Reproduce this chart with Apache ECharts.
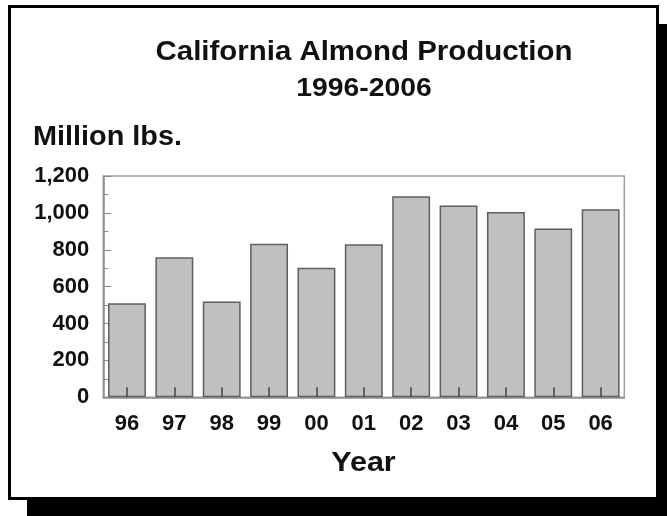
<!DOCTYPE html>
<html>
<head>
<meta charset="utf-8">
<script src="https://cdn.jsdelivr.net/npm/echarts@6/dist/echarts.min.js"></script>
<style>
html,body{margin:0;padding:0;background:#fff;}
#c{width:667px;height:516px;}
</style>
</head>
<body>
<div id="c"></div>
<script>
const categories = ['96','97','98','99','00','01','02','03','04','05','06'];
const production = [510, 759, 520, 833, 703, 830, 1090, 1040, 1005, 915, 1020];
const yTicks = {min: 0, max: 1200, interval: 200};
const titleLines = ['California Almond Production', '1996-2006'];
const yName = 'Million lbs.';
const xName = 'Year';

const chart = echarts.init(document.getElementById('c'), null, {renderer: 'canvas'});
const FONT = 'Liberation Sans, Arial, sans-serif';
chart.setOption({
  backgroundColor: '#fff',
  animation: false,
  graphic: [
    {type: 'rect', z: -20, shape: {x: 27, y: 24, width: 650, height: 500}, style: {fill: '#000'}},
    {type: 'rect', z: -19, shape: {x: 9.5, y: 6.5, width: 648, height: 492}, style: {fill: '#fff', stroke: '#000', lineWidth: 3}},
    {type: 'text', x: 364, y: 52.5, scaleX: 1.09, style: {text: titleLines[0], font: 'bold 27px ' + FONT, fill: '#111', textAlign: 'center', textVerticalAlign: 'middle'}},
    {type: 'text', x: 364, y: 88.5, scaleX: 1.09, style: {text: titleLines[1], font: 'bold 26px ' + FONT, fill: '#111', textAlign: 'center', textVerticalAlign: 'middle'}},
    {type: 'text', x: 33, y: 137.7, scaleX: 1.03, style: {text: yName, font: 'bold 28px ' + FONT, fill: '#111', textAlign: 'left', textVerticalAlign: 'middle'}},
    {type: 'text', x: 363.5, y: 463.3, scaleX: 1.09, style: {text: xName, font: 'bold 28px ' + FONT, fill: '#111', textAlign: 'center', textVerticalAlign: 'middle'}}
  ],
  grid: {left: 103.3, right: 42.7, top: 176, bottom: 118.7, show: true, borderColor: '#a0a0a0', borderWidth: 1.5, backgroundColor: 'transparent'},
  xAxis: {
    type: 'category',
    data: categories,
    z: 10,
    axisLine: {lineStyle: {color: '#8a8a8a', width: 1.5}},
    axisTick: {show: true, inside: true, alignWithLabel: true, length: 10, lineStyle: {color: '#444', width: 1.5}},
    axisLabel: {margin: 16, fontSize: 22, fontWeight: 'bold', fontFamily: FONT, color: '#111'},
    splitLine: {show: false}
  },
  yAxis: {
    type: 'value',
    min: yTicks.min, max: yTicks.max, interval: yTicks.interval,
    axisLine: {show: true, lineStyle: {color: '#8a8a8a', width: 1.5}},
    axisTick: {show: true, inside: true, length: 8, lineStyle: {color: '#888', width: 1}},
    minorTick: {show: true, splitNumber: 2, length: 5, lineStyle: {color: '#888', width: 1}},
    axisLabel: {margin: 14, fontSize: 22, fontWeight: 'bold', fontFamily: FONT, color: '#111',
      formatter: v => v.toLocaleString('en-US')},
    splitLine: {show: false}
  },
  series: [{
    type: 'bar',
    data: production,
    barCategoryGap: '20%',
    itemStyle: {color: '#c0c0c0', borderColor: '#5e5e5e', borderWidth: 1.5}
  }]
});
</script>
</body>
</html>
